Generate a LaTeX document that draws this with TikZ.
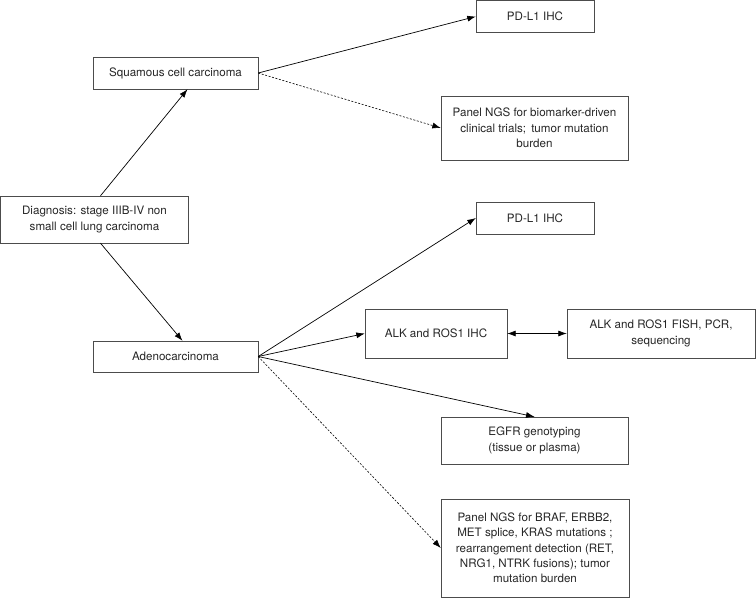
\documentclass[tikz,border=0pt]{standalone}
\usepackage{fontspec}
\setmainfont{TeX Gyre Heros}
\usepackage{tikz}
\usetikzlibrary{arrows.meta}

\begin{document}
\begin{tikzpicture}[>={Latex[length=8.5pt, width=6pt]}, x=1pt, y=-1pt,
    box/.style={draw=black!70, align=center, inner sep=2pt, text=black!85, font=\fontsize{11.6}{15.3}\selectfont},
    link/.style={->, line width=0.7pt},
    dlink/.style={->, line width=0.6pt, dash pattern=on 2pt off 1.6pt}]
    \useasboundingbox (0,0) rectangle (756,598);
    % Diagnosis and histology
    \node (diag) at (94.5,219.5) [box, minimum width=188pt, minimum height=47pt] {Diagnosis: stage IIIB-IV non\\small cell lung carcinoma};
    \node (squam) at (175.5,73) [box, minimum width=165pt, minimum height=32pt] {Squamous cell carcinoma};
    \node (adeno) at (175.5,356.5) [box, minimum width=165pt, minimum height=31pt] {Adenocarcinoma};

    % Tests for squamous cell carcinoma
    \node (pdlsq) at (535,16.5) [box, minimum width=118pt, minimum height=32pt] {PD-L1 IHC};
    \node (ngssq) at (534.5,128) [box, minimum width=187pt, minimum height=64pt] {Panel NGS for biomarker-driven\\clinical trials;\, tumor mutation\\burden};

    % Tests for adenocarcinoma
    \node (pdlad) at (535,218) [box, minimum width=118pt, minimum height=32pt] {PD-L1 IHC};
    \node (alkihc) at (436,333.5) [box, minimum width=142pt, minimum height=49pt] {ALK and ROS1 IHC};
    \node (alkfish) at (661,333.5) [box, minimum width=188pt, minimum height=49pt] {ALK and ROS1 FISH, PCR,\\sequencing};
    \node (egfr) at (534.5,440.5) [box, minimum width=187pt, minimum height=47pt] {EGFR genotyping\\(tissue or plasma)};
    \node (ngsad) at (535,548) [box, minimum width=188pt, minimum height=98pt] {Panel NGS for BRAF, ERBB2,\\MET splice, KRAS mutations ;\\rearrangement detection (RET,\\NRG1, NTRK fusions); tumor\\mutation burden};

    \draw [link] ([xshift=6pt]diag.north) -- ([xshift=12pt]squam.south);
    \draw [link] ([xshift=6pt]diag.south) -- ([xshift=7pt]adeno.north);

    \draw [link] (squam.east) -- (pdlsq.west);
    \draw [dlink] (squam.east) -- (ngssq.west);

    \draw [link] (adeno.east) -- (pdlad.west);
    \draw [link] (adeno.east) -- (alkihc.west);
    \draw [link] (adeno.east) -- (egfr.north);
    \draw [dlink] (adeno.east) -- (ngsad.west);
    \draw [<->, line width=0.7pt] (alkihc.east) -- (alkfish.west);
\end{tikzpicture}
\end{document}
